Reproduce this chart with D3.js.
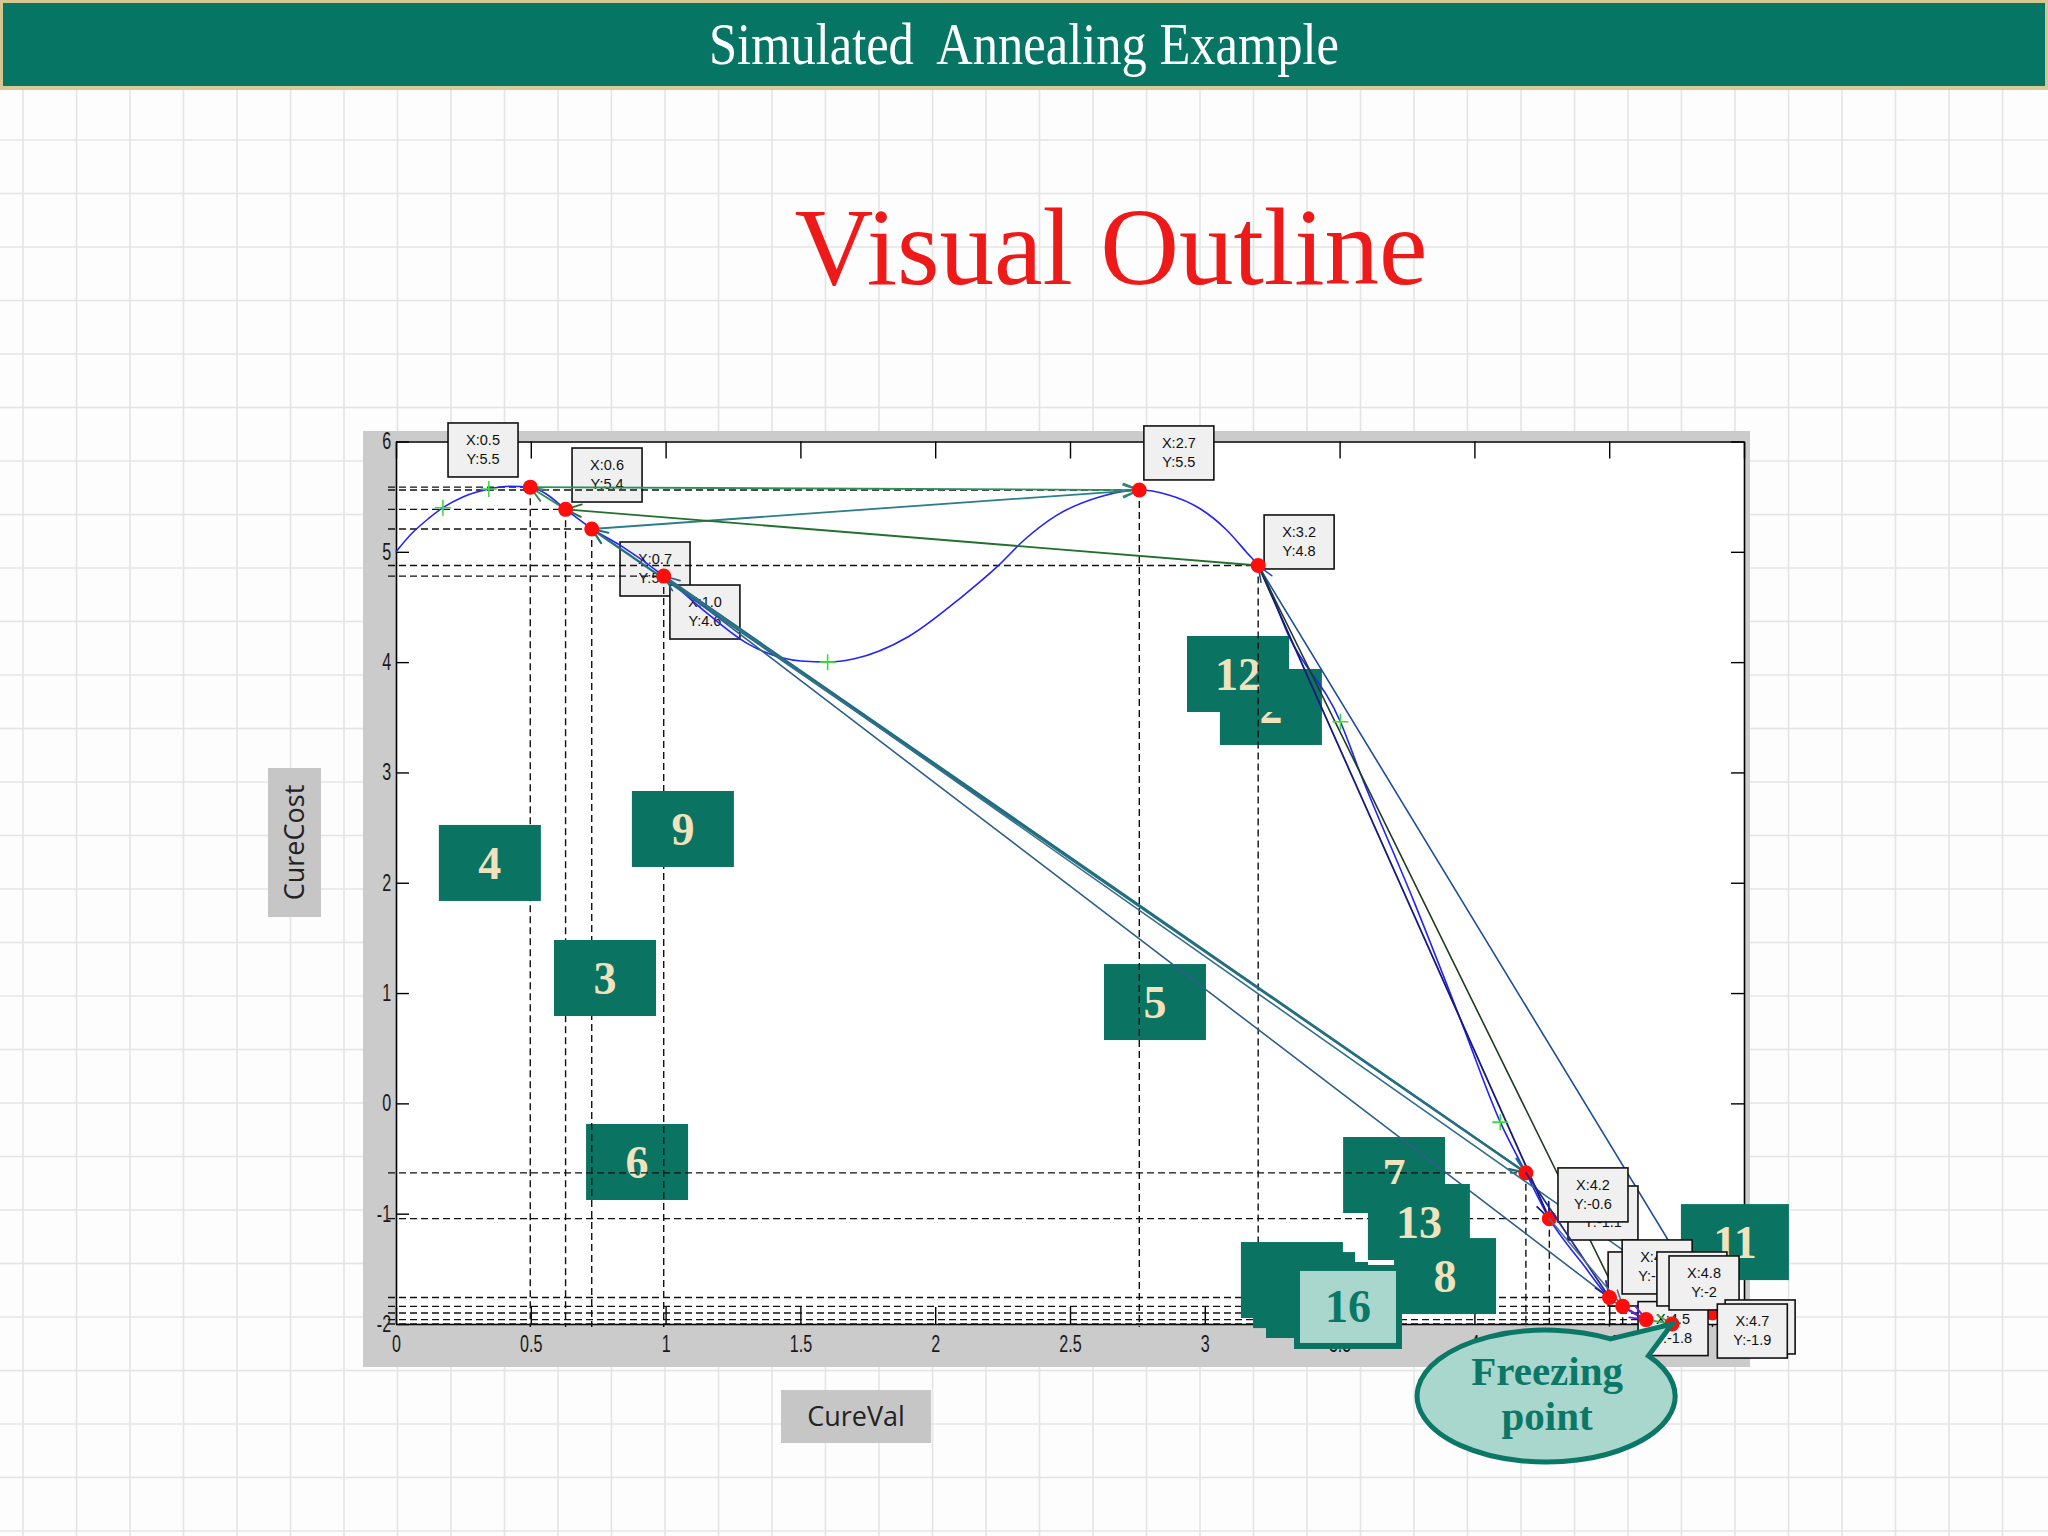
<!DOCTYPE html>
<html><head><meta charset="utf-8">
<script src="https://cdn.jsdelivr.net/npm/d3@7"></script>
<style>html,body{margin:0;padding:0;background:#fff;} svg{display:block}</style>
</head><body>
<svg id="c" width="2048" height="1536"></svg>
<script>
// ---------------- data ----------------
const slideTitle = "Simulated  Annealing Example";
const mainTitle = "Visual Outline";
const xLabel = "CureVal";
const yLabel = "CureCost";
const xDomain = [0, 5];
const yDomain = [-2, 6];
const xTickValues = [0, 0.5, 1, 1.5, 2, 2.5, 3, 3.5, 4, 4.5, 5];
const yTickValues = [-2, -1, 0, 1, 2, 3, 4, 5, 6];

// cost curve
const curveX = [0, 0.06, 0.12, 0.174, 0.25, 0.344, 0.42, 0.5, 0.56, 0.629, 0.726, 0.831, 0.993, 1.15, 1.302, 1.502, 1.601, 1.70, 1.90, 2.098, 2.23, 2.33, 2.45, 2.612, 2.757, 2.86, 2.983, 3.08, 3.157, 3.198, 3.317, 3.503, 3.577, 3.774, 3.95, 4.096, 4.191, 4.278, 4.4, 4.501, 4.55, 4.637, 4.733, 4.82, 4.883];
const curveY = [5.0, 5.17, 5.30, 5.40, 5.50, 5.57, 5.595, 5.585, 5.52, 5.385, 5.21, 5.06, 4.78, 4.45, 4.17, 4.01, 4.0, 4.03, 4.23, 4.59, 4.865, 5.107, 5.33, 5.5, 5.56, 5.52, 5.39, 5.20, 4.99, 4.876, 4.21, 3.46, 2.99, 1.84, 0.75, -0.17, -0.63, -1.045, -1.45, -1.76, -1.84, -1.96, -2.0, -1.97, -1.9];

// visited states (red dots)
const pointX = [0.498, 0.629, 0.726, 0.993, 2.757, 3.198, 4.191, 4.278, 4.501, 4.55, 4.637, 4.733, 4.883];
const pointY = [5.586, 5.385, 5.207, 4.78, 5.56, 4.876, -0.63, -1.045, -1.76, -1.84, -1.96, -2.0, -1.9];

// green "+" markers
const markerX = [0.174, 0.344, 1.601, 3.503, 4.096];
const markerY = [5.40, 5.57, 4.0, 3.46, -0.17];

// moves between states (indices into point arrays)
const moveFrom = [1, 0, 2, 5, 3, 6, 8, 3, 5, 12, 5, 6, 7, 9, 10];
const moveTo   = [0, 4, 4, 1, 6, 2, 3, 12, 7, 5, 9, 8, 9, 10, 11];

// data tips
const tipX = [0.193, 0.653, 0.831, 1.016, 2.774, 3.220, 4.347, 4.310, 4.496, 4.548, 4.607, 4.677, 4.722, 4.930, 4.901];
const tipY = [6.168, 5.941, 5.089, 4.699, 6.141, 5.334, -0.749, -0.585, -1.347, -1.238, -1.797, -1.347, -1.383, -1.782, -1.819];
const tipLine1 = ["X:0.5", "X:0.6", "X:0.7", "X:1.0", "X:2.7", "X:3.2", "X:4.3", "X:4.2", "X:4.5", "X:4.6", "X:4.5", "X:4.7", "X:4.8", "X:4.7", "X:4.7"];
const tipLine2 = ["Y:5.5", "Y:5.4", "Y:5.2", "Y:4.6", "Y:5.5", "Y:4.8", "Y:-1.1", "Y:-0.6", "Y:-1.8", "Y:-1.9", "Y:-1.8", "Y:-2", "Y:-2", "Y:-1.9", "Y:-1.9"];

// step number boxes
const stepText = ["2", "12", "5", "7", "6", "4", "9", "3", "13", "8", "", "", "", "16", "11"];
const stepX = [3.056, 2.934, 2.626, 3.513, 0.705, 0.159, 0.875, 0.586, 3.605, 3.702, 3.134, 3.179, 3.227, 3.342, 4.766];
const stepY = [3.938, 4.237, 1.263, -0.305, -0.187, 2.524, 2.832, 1.481, -0.731, -1.221, -1.257, -1.348, -1.438, -1.492, -0.913];

// callout
const calloutLines = ["Freezing", "point"];
const calloutX = 4.266, calloutY = -2.653, calloutTarget = 11;

// ---------------- styles ----------------
const moveColor = ["#2f8f46", "#2f8f5a", "#2a7f8a", "#23702e", "#1e6c7e", "#256f80", "#2d5f8c", "#33708f", "#161a7a", "#1d4d9a", "#1f3d22", "#232a8c", "#4f6d8c", "#6b21d8", "#3cb043"];
const moveWidth = [1.8, 1.8, 1.8, 1.8, 2.4, 2.2, 1.6, 1.6, 1.8, 1.6, 1.6, 1.8, 1.6, 1.8, 1.8];
const moveOnTop = [0,0,0,0,0,0,0,0,0,0,0,1,1,1,1];
const dotOnTop = [0,0,0,0,0,0,0,0,1,1,1,1,0];
const tipOnTop = [0,0,0,0,0,0,1,1,1,1,1,1,1,1,1];
const stepOnTop = [0,0,0,0,0,1,1,1,1,1,1,1,1,1,1];
const stepLight = [0,0,0,0,0,0,0,0,0,0,0,0,0,1,0];
const TEAL = "#0a7361", CREAM = "#efe2bd", LIGHT = "#a9d6cd";

// ---------------- drawing ----------------
const W = 2048, H = 1536;
const svg = d3.select("#c");

// slide background with graph-paper grid
svg.append("rect").attr("width", W).attr("height", H).attr("fill", "#fdfdfd");
const grid = svg.append("g").attr("stroke", "#e4e4e4").attr("stroke-width", 1.6);
for (let gx = 23; gx < W; gx += 53.5) grid.append("line").attr("x1", gx).attr("x2", gx).attr("y1", 90).attr("y2", H);
for (let gy = 140; gy < H; gy += 53.5) grid.append("line").attr("x1", 0).attr("x2", W).attr("y1", gy).attr("y2", gy);

// banner
svg.append("rect").attr("x", 0).attr("y", 0).attr("width", W).attr("height", 89).attr("fill", "#077563");
svg.append("rect").attr("x", 1.5).attr("y", 1.5).attr("width", W - 3).attr("height", 86).attr("fill", "none").attr("stroke", "#d7c690").attr("stroke-width", 3);
svg.append("line").attr("x1", 0).attr("x2", W).attr("y1", 88).attr("y2", 88).attr("stroke", "#d9c996").attr("stroke-width", 4);
svg.append("text").attr("x", 1024).attr("y", 64).attr("text-anchor", "middle").style("white-space", "pre")
  .attr("font-family", "Liberation Serif").attr("font-size", 60).attr("fill", "#fff")
  .attr("textLength", 630).attr("lengthAdjust", "spacingAndGlyphs").text(slideTitle);

// main title
svg.append("text").attr("x", 1111).attr("y", 284).attr("text-anchor", "middle")
  .attr("font-family", "Liberation Serif").attr("font-size", 110).attr("fill", "#ee1a1a")
  .attr("textLength", 633).attr("lengthAdjust", "spacingAndGlyphs").text(mainTitle);

const x = d3.scaleLinear().domain(xDomain).range([396, 1744]);
const y = d3.scaleLinear().domain(yDomain).range([1324, 441.5]);

// figure panel
svg.append("rect").attr("x", 363).attr("y", 431).attr("width", 1387).attr("height", 936).attr("fill", "#cbcbcb");
svg.append("rect").attr("x", x(xDomain[0])).attr("y", y(yDomain[1]))
  .attr("width", x(xDomain[1]) - x(xDomain[0])).attr("height", y(yDomain[0]) - y(yDomain[1])).attr("fill", "#fff");

// axes
const fmt = d => String(d);
function styleTicks(g) {
  g.select(".domain").attr("stroke", "#000").attr("stroke-width", 1.6);
  g.selectAll(".tick line").attr("stroke", "#000").attr("stroke-width", 1.4);
  g.selectAll(".tick text").attr("font-family", "Liberation Sans").attr("font-size", 23).attr("fill", "#1a1a1a")
    .attr("transform", "scale(0.7,1)");
}
svg.append("g").attr("transform", `translate(0,${y(yDomain[0])})`)
  .call(d3.axisBottom(x).tickValues(xTickValues).tickFormat(fmt).tickSizeInner(-17).tickSizeOuter(0).tickPadding(12)).call(styleTicks);
svg.append("g").attr("transform", `translate(0,${y(yDomain[1])})`)
  .call(d3.axisTop(x).tickValues(xTickValues).tickFormat("").tickSizeInner(-17).tickSizeOuter(0)).call(styleTicks);
svg.append("g").attr("transform", `translate(${x(xDomain[0])},0)`)
  .call(d3.axisLeft(y).tickValues(yTickValues).tickFormat(fmt).tickSizeInner(-13).tickSizeOuter(0).tickPadding(7)).call(styleTicks);
svg.append("g").attr("transform", `translate(${x(xDomain[1])},0)`)
  .call(d3.axisRight(y).tickValues(yTickValues).tickFormat("").tickSizeInner(-13).tickSizeOuter(0)).call(styleTicks);

// axis label boxes
svg.append("rect").attr("x", 268).attr("y", 768).attr("width", 53).attr("height", 149).attr("fill", "#c6c6c6");
svg.append("text").attr("transform", "translate(304,842.5) rotate(-90)").attr("text-anchor", "middle")
  .attr("font-family", "Open Sans").attr("font-size", 27).attr("fill", "#222").text(yLabel);
svg.append("rect").attr("x", 781).attr("y", 1390).attr("width", 150).attr("height", 53).attr("fill", "#c6c6c6");
svg.append("text").attr("x", 856).attr("y", 1426).attr("text-anchor", "middle")
  .attr("font-family", "Open Sans").attr("font-size", 27).attr("fill", "#222").text(xLabel);

// layers
const L = {};
["stepsUnder", "tipsUnder", "guides", "curve", "moves", "dots", "markers", "stepsOver", "tipsOver", "movesTop", "dotsTop", "callout"]
  .forEach(k => L[k] = svg.append("g"));

// step boxes
const BW = 102, BH = 76;
stepText.forEach((t, i) => {
  const g = (stepOnTop[i] ? L.stepsOver : L.stepsUnder).append("g");
  const bx = x(stepX[i]), by = y(stepY[i]);
  const bw = i === 14 ? BW + 6 : BW;
  if (stepLight[i]) {
    g.append("rect").attr("x", bx).attr("y", by).attr("width", bw).attr("height", BH + 2)
      .attr("fill", LIGHT).attr("stroke", TEAL).attr("stroke-width", 6);
  } else {
    g.append("rect").attr("x", bx).attr("y", by).attr("width", bw).attr("height", BH).attr("fill", TEAL);
  }
  if (t) g.append("text").attr("x", bx + bw / 2).attr("y", by + BH / 2 + 16).attr("text-anchor", "middle")
    .attr("font-family", "Liberation Serif").attr("font-weight", "bold").attr("font-size", 46)
    .attr("fill", stepLight[i] ? "#0b7766" : CREAM).text(t);
});

// data tips
const TW = 70, TH = 54;
tipLine1.forEach((t, i) => {
  const g = (tipOnTop[i] ? L.tipsOver : L.tipsUnder).append("g");
  const tx = x(tipX[i]), ty = y(tipY[i]);
  g.append("rect").attr("x", tx).attr("y", ty).attr("width", TW).attr("height", TH)
    .attr("fill", "#f0f0f0").attr("stroke", "#111").attr("stroke-width", 1.6);
  g.append("text").attr("x", tx + TW / 2).attr("y", ty + 22).attr("text-anchor", "middle")
    .attr("font-family", "Liberation Sans").attr("font-size", 14.5).attr("fill", "#111").text(t);
  g.append("text").attr("x", tx + TW / 2).attr("y", ty + 41).attr("text-anchor", "middle")
    .attr("font-family", "Liberation Sans").attr("font-size", 14.5).attr("fill", "#111").text(tipLine2[i]);
});

// dashed guides
pointX.forEach((px, i) => {
  L.guides.append("line").attr("x1", x(xDomain[0]) - 8).attr("x2", x(px)).attr("y1", y(pointY[i])).attr("y2", y(pointY[i]))
    .attr("stroke", "#111").attr("stroke-width", 1.4).attr("stroke-dasharray", "7,4");
  L.guides.append("line").attr("x1", x(px)).attr("x2", x(px)).attr("y1", y(pointY[i])).attr("y2", y(yDomain[0]) + 3)
    .attr("stroke", "#111").attr("stroke-width", 1.4).attr("stroke-dasharray", "7,4");
});

// curve
const curvePts = curveX.map((cx, i) => [cx, curveY[i]]);
L.curve.append("path").attr("d", d3.line().x(d => x(d[0])).y(d => y(d[1])).curve(d3.curveMonotoneX)(curvePts))
  .attr("fill", "none").attr("stroke", "#2222ff").attr("stroke-width", 1.6);

// moves with open arrowheads
moveFrom.forEach((f, i) => {
  const t = moveTo[i];
  const x1 = x(pointX[f]), y1 = y(pointY[f]), x2 = x(pointX[t]), y2 = y(pointY[t]);
  const g = (moveOnTop[i] ? L.movesTop : L.moves).append("g")
    .attr("stroke", moveColor[i]).attr("stroke-width", moveWidth[i]).attr("fill", "none").attr("stroke-linecap", "round");
  g.append("line").attr("x1", x1).attr("y1", y1).attr("x2", x2).attr("y2", y2);
  const a = Math.atan2(y2 - y1, x2 - x1), len = 17, sp = 0.38;
  g.append("path").attr("d",
    `M${x2 - len * Math.cos(a - sp)},${y2 - len * Math.sin(a - sp)}L${x2},${y2}L${x2 - len * Math.cos(a + sp)},${y2 - len * Math.sin(a + sp)}`);
});

// red dots
pointX.forEach((px, i) => {
  (dotOnTop[i] ? L.dotsTop : L.dots).append("circle").attr("cx", x(px)).attr("cy", y(pointY[i])).attr("r", 7.5).attr("fill", "#ff0d0d");
});

// green markers
markerX.forEach((mx, i) => {
  const cx = x(mx), cy = y(markerY[i]);
  L.markers.append("path").attr("d", `M${cx - 8},${cy}H${cx + 8}M${cx},${cy - 8}V${cy + 8}`)
    .attr("stroke", "#3ddc3d").attr("stroke-width", 1.6);
});

// callout bubble
(function () {
  const cx = x(calloutX), cy = y(calloutY), rx = 129, ry = 66;
  const ax = x(pointX[calloutTarget]), ay = y(pointY[calloutTarget]);
  const a1 = -60 * Math.PI / 180, a2 = -37.5 * Math.PI / 180;
  const p1 = [cx + rx * Math.cos(a1), cy + ry * Math.sin(a1)];
  const p2 = [cx + rx * Math.cos(a2), cy + ry * Math.sin(a2)];
  const d = `M${p1[0]},${p1[1]}L${ax},${ay}L${p2[0]},${p2[1]}A${rx},${ry} 0 1 1 ${p1[0]},${p1[1]}Z`;
  L.callout.append("path").attr("d", d).attr("fill", LIGHT).attr("stroke", "#0b7766").attr("stroke-width", 5).attr("stroke-linejoin", "miter");
  calloutLines.forEach((t, i) => {
    L.callout.append("text").attr("x", cx + 1).attr("y", cy - 11 + i * 45).attr("text-anchor", "middle")
      .attr("font-family", "Liberation Serif").attr("font-weight", "bold").attr("font-size", 41).attr("fill", "#0b7766").text(t);
  });
})();
</script>
</body></html>
